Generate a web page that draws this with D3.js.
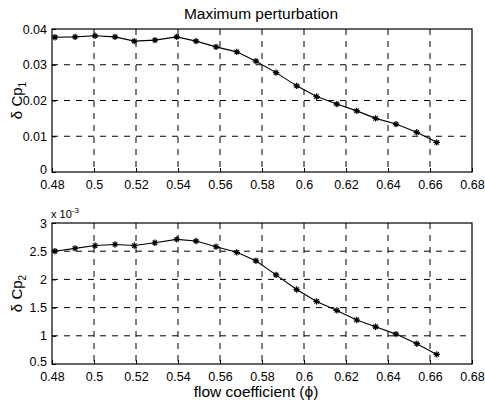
<!DOCTYPE html>
<html>
<head>
<meta charset="utf-8">
<script src="https://cdn.jsdelivr.net/npm/d3@7"></script>
<style>
  html, body { margin: 0; padding: 0; background: #fff; }
  svg { display: block; }
  text { font-family: "Liberation Sans", Arial, sans-serif; fill: #000; }
</style>
</head>
<body>
<svg id="chart" width="485" height="407"></svg>
<script>
// Flow coefficient at each measurement
const phi = [0.4814, 0.4910, 0.5005, 0.5100, 0.5192, 0.5290, 0.5394, 0.5486, 0.5581, 0.5680,
             0.5771, 0.5867, 0.5965, 0.6060, 0.6156, 0.6251, 0.6341, 0.6438, 0.6537, 0.6632];
// Maximum perturbation of Cp1
const dCp1 = [0.0377, 0.0378, 0.0381, 0.0378, 0.0366, 0.0369, 0.0378, 0.0366, 0.0350, 0.0336,
              0.0310, 0.0278, 0.0241, 0.0211, 0.0190, 0.0171, 0.0150, 0.0134, 0.0111, 0.0083];
// Maximum perturbation of Cp2 (x 10^-3)
const dCp2 = [2.50, 2.55, 2.60, 2.62, 2.60, 2.65, 2.71, 2.68, 2.58, 2.48,
              2.33, 2.08, 1.82, 1.61, 1.45, 1.28, 1.16, 1.03, 0.86, 0.67];

const xTicks = [0.48, 0.5, 0.52, 0.54, 0.56, 0.58, 0.6, 0.62, 0.64, 0.66, 0.68];
const xTickLabels = ["0.48", "0.5", "0.52", "0.54", "0.56", "0.58", "0.6", "0.62", "0.64", "0.66", "0.68"];
const y1Ticks = [0, 0.01, 0.02, 0.03, 0.04];
const y1TickLabels = ["0", "0.01", "0.02", "0.03", "0.04"];
const y2Ticks = [0.5, 1, 1.5, 2, 2.5, 3];
const y2TickLabels = ["0.5", "1", "1.5", "2", "2.5", "3"];

const svg = d3.select("#chart");
const left = 52, right = 472;
const font = '"Liberation Sans", Arial, sans-serif';

const x = d3.scaleLinear().domain([0.48, 0.68]).range([left, right]);

function panel(top, bottom, yDomain, yTicks, yLabels, values, sub) {
  const y = d3.scaleLinear().domain(yDomain).range([bottom, top]);
  const g = svg.append("g");

  // dashed grid
  g.append("g").selectAll("line").data(xTicks.slice(1, -1)).join("line")
    .attr("x1", d => x(d)).attr("x2", d => x(d))
    .attr("y1", top).attr("y2", bottom)
    .attr("stroke", "#000").attr("stroke-width", 1).attr("stroke-dasharray", "6,6");
  g.append("g").selectAll("line").data(yTicks.slice(1, -1)).join("line")
    .attr("x1", left).attr("x2", right)
    .attr("y1", d => y(d)).attr("y2", d => y(d))
    .attr("stroke", "#000").attr("stroke-width", 1).attr("stroke-dasharray", "6,6");

  // axes with inward ticks
  const xAxis = d3.axisBottom(x).tickValues(xTicks).tickSize(-4).tickPadding(8)
    .tickFormat((d, i) => xTickLabels[i]);
  const ax = g.append("g").attr("transform", `translate(0,${bottom})`).call(xAxis);
  const yAxis = d3.axisLeft(y).tickValues(yTicks).tickSize(-4).tickPadding(5)
    .tickFormat((d, i) => yLabels[i]);
  const ay = g.append("g").attr("transform", `translate(${left},0)`).call(yAxis);
  [ax, ay].forEach(a => {
    a.select(".domain").remove();
    a.selectAll("text").style("font-size", "12.5px").style("font-family", font);
    a.selectAll("line").attr("stroke", "#000");
  });
  // lowest y label sits a little above its tick, clear of the x labels
  ay.selectAll(".tick").filter((d, i) => i === 0).select("text").attr("dy", "0.1em");

  // box
  g.append("rect").attr("x", left).attr("y", top)
    .attr("width", right - left).attr("height", bottom - top)
    .attr("fill", "none").attr("stroke", "#000").attr("stroke-width", 1.2);

  // data line
  const line = d3.line().x((d, i) => x(phi[i])).y(d => y(d));
  g.append("path").datum(values).attr("d", line)
    .attr("fill", "none").attr("stroke", "#000").attr("stroke-width", 1.1);

  // asterisk markers
  const r = 3.2;
  g.append("g").selectAll("path").data(values).join("path")
    .attr("d", (d, i) => {
      const cx = x(phi[i]), cy = y(d), q = r * 0.7;
      return `M${cx - r},${cy}H${cx + r}M${cx},${cy - r}V${cy + r}` +
             `M${cx - q},${cy - q}L${cx + q},${cy + q}M${cx - q},${cy + q}L${cx + q},${cy - q}`;
    })
    .attr("stroke", "#000").attr("stroke-width", 1.2).attr("fill", "none");

  // y label: δ Cp with subscript
  const cy = (top + bottom) / 2;
  const t = g.append("text")
    .attr("transform", `translate(22,${cy}) rotate(-90)`)
    .attr("text-anchor", "middle").style("font-size", "15px");
  t.append("tspan").text("δ Cp");
  t.append("tspan").attr("dy", 4).style("font-size", "10px").text(sub);
  return y;
}

panel(29, 172, [0, 0.04], y1Ticks, y1TickLabels, dCp1, "1");
panel(223, 364, [0.5, 3], y2Ticks, y2TickLabels, dCp2, "2");

// exponent label for lower panel
const ex = svg.append("text").attr("x", 51).attr("y", 218).style("font-size", "11px");
ex.append("tspan").text("x 10");
ex.append("tspan").attr("dy", -5).style("font-size", "8px").text("-3");

// title and x label
svg.append("text").attr("x", 261).attr("y", 19).attr("text-anchor", "middle")
  .style("font-size", "15.5px").text("Maximum perturbation");
svg.append("text").attr("x", 256).attr("y", 397).attr("text-anchor", "middle")
  .style("font-size", "15.5px").text("flow coefficient (ϕ)");
</script>
</body>
</html>
